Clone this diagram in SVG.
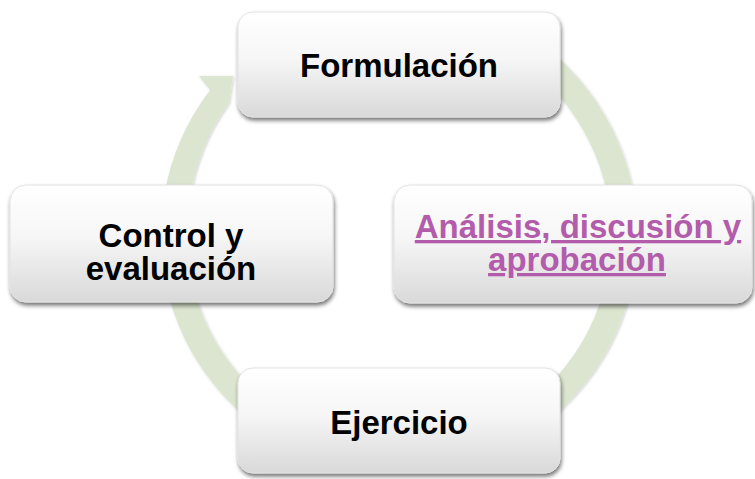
<svg xmlns="http://www.w3.org/2000/svg" width="755" height="479" viewBox="0 0 755 479">
<style>
.ring{fill:none;stroke:#dbe5cf;stroke-width:26}
.box{fill:url(#g);stroke:#e2e2e2;stroke-width:1;filter:url(#sh)}
.t{font-family:"Liberation Sans",Arial,sans-serif;font-weight:bold;font-size:33px;fill:#000;text-anchor:middle}
.lnk{fill:#b35cab;text-decoration:underline}
</style>
<defs>
<linearGradient id="g" x1="0" y1="0" x2="0" y2="1">
<stop offset="0" stop-color="#ffffff"/>
<stop offset="0.45" stop-color="#f6f6f6"/>
<stop offset="1" stop-color="#d9d9d9"/>
</linearGradient>
<filter id="sh" x="-10%" y="-10%" width="120%" height="130%">
<feGaussianBlur in="SourceAlpha" stdDeviation="2"/>
<feOffset dx="1" dy="3" result="b"/>
<feComponentTransfer><feFuncA type="linear" slope="0.55"/></feComponentTransfer>
<feMerge><feMergeNode/><feMergeNode in="SourceGraphic"/></feMerge>
</filter>
<filter id="rs" x="-10%" y="-10%" width="120%" height="120%">
<feGaussianBlur in="SourceAlpha" stdDeviation="1.5"/>
<feOffset dx="1" dy="1"/>
<feComponentTransfer><feFuncA type="linear" slope="0.2"/></feComponentTransfer>
<feMerge><feMergeNode/><feMergeNode in="SourceGraphic"/></feMerge>
</filter>
</defs>
<g id="connectors" filter="url(#rs)">
<path d="M164.6,193.7 A238,238 0 0 1 210.2,90.1 L199,76 L233,76 L229,103 A212,212 0 0 0 190.2,198.2 Z" fill="#dbe5cf"/>
<path class="ring" d="M511.5,40.1 A225,225 0 0 1 624,235"/>
<path class="ring" d="M620.6,274.1 A225,225 0 0 1 457.2,452.3"/>
<path class="ring" d="M340.8,452.3 A225,225 0 0 1 177.4,274.1"/>
</g>
<g id="formulacion">
<rect class="box" x="238" y="12" width="322" height="105" rx="15"/>
<text class="t" x="399" y="77">Formulación</text>
</g>
<g id="analisis">
<rect class="box" x="394" y="185" width="358" height="118" rx="16"/>
<text class="t lnk" x="578" y="238">Análisis, discusión y</text>
<text class="t lnk" x="577" y="271">aprobación</text>
</g>
<g id="control">
<rect class="box" x="10" y="185" width="323" height="117" rx="16"/>
<text class="t" x="171" y="247">Control y</text>
<text class="t" x="171" y="280">evaluación</text>
</g>
<g id="ejercicio">
<rect class="box" x="238" y="368" width="322" height="105" rx="15"/>
<text class="t" x="399" y="434">Ejercicio</text>
</g>
</svg>
